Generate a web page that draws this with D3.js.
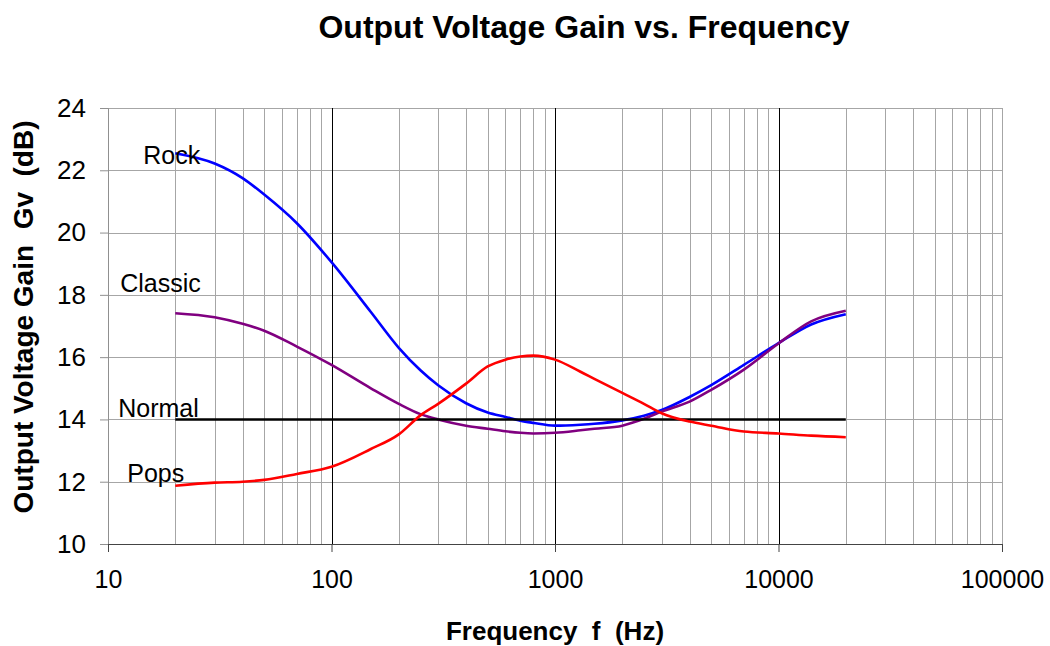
<!DOCTYPE html>
<html>
<head>
<meta charset="utf-8">
<script src="https://cdn.jsdelivr.net/npm/d3@7"></script>
<style>
  body { margin: 0; background: #fff; }
  text { font-family: "Liberation Sans", Arial, sans-serif; }
</style>
</head>
<body>
<svg id="chart" width="1050" height="646"></svg>
<script>
// frequencies (Hz) shared by all series
var freqs = [20, 30, 40, 50, 70, 100, 150, 200, 250, 300, 400, 500, 600, 700, 800,
             1000, 1300, 1500, 2000, 2500, 3000, 4000, 5000, 7000, 10000, 14000, 20000];

var rock    = [22.55, 22.22, 21.75, 21.22, 20.3, 19.05, 17.45, 16.3, 15.58, 15.1, 14.52, 14.22, 14.08, 13.96, 13.89,
               13.8, 13.83, 13.86, 13.97, 14.12, 14.3, 14.72, 15.1, 15.75, 16.45, 17.05, 17.38];
var classic = [17.41, 17.28, 17.07, 16.85, 16.34, 15.75, 15.0, 14.5, 14.17, 14.0, 13.8, 13.7, 13.62, 13.57, 13.55,
               13.57, 13.65, 13.7, 13.8, 14.02, 14.25, 14.57, 14.95, 15.6, 16.44, 17.15, 17.49];
var normal  = [14, 14, 14, 14, 14, 14, 14, 14, 14, 14, 14, 14, 14, 14, 14,
               14, 14, 14, 14, 14, 14, 14, 14, 14, 14, 14, 14];
var pops    = [11.87, 11.97, 12.0, 12.06, 12.25, 12.48, 13.05, 13.52, 14.13, 14.5, 15.15, 15.7, 15.92, 16.02, 16.05,
               15.92, 15.53, 15.3, 14.85, 14.5, 14.2, 13.93, 13.8, 13.61, 13.55, 13.48, 13.43];

var seriesNames = ["Rock", "Classic", "Normal", "Pops"];
var seriesValues = [rock, classic, normal, pops];
var seriesColors = ["#0000ff", "#800080", "#000000", "#ff0000"];

var xTicks = [10, 100, 1000, 10000, 100000];
var yTicks = [10, 12, 14, 16, 18, 20, 22, 24];

var margin = {top: 108, right: 48, bottom: 102, left: 108};
var width = 1050 - margin.left - margin.right;
var height = 646 - margin.top - margin.bottom;

var svg = d3.select("#chart");
var g = svg.append("g").attr("transform", "translate(" + margin.left + "," + margin.top + ")");

var x = d3.scaleLog().domain([10, 100000]).range([0, width]);
var y = d3.scaleLinear().domain([10, 24]).range([height, 0]);

// minor vertical grid lines (2..9 within each decade)
var minor = [];
for (var dec = 10; dec < 100000; dec *= 10) {
  for (var k = 2; k <= 9; k++) minor.push(dec * k);
}
g.selectAll(".vminor").data(minor).enter().append("line")
  .attr("x1", function(d) { return Math.round(x(d)) + 0.5; })
  .attr("x2", function(d) { return Math.round(x(d)) + 0.5; })
  .attr("y1", 0).attr("y2", height)
  .attr("stroke", "#a6a6a6").attr("stroke-width", 1);

// horizontal grid
g.selectAll(".hgrid").data(yTicks.slice(1)).enter().append("line")
  .attr("x1", 0).attr("x2", width)
  .attr("y1", function(d) { return Math.round(y(d)) + 0.5; })
  .attr("y2", function(d) { return Math.round(y(d)) + 0.5; })
  .attr("stroke", "#a6a6a6").attr("stroke-width", 1);

// major vertical lines
g.selectAll(".vmajor").data(xTicks.slice(1, 4)).enter().append("line")
  .attr("x1", function(d) { return Math.round(x(d)) + 0.5; })
  .attr("x2", function(d) { return Math.round(x(d)) + 0.5; })
  .attr("y1", 0).attr("y2", height)
  .attr("stroke", "#000").attr("stroke-width", 1);

g.append("line")
  .attr("x1", Math.round(x(100000)) + 0.5).attr("x2", Math.round(x(100000)) + 0.5)
  .attr("y1", 0).attr("y2", height)
  .attr("stroke", "#a6a6a6");

// y axis
var yAxis = g.append("g")
  .call(d3.axisLeft(y).tickValues(yTicks).tickSize(8).tickPadding(14).tickFormat(d3.format("d")));
yAxis.select(".domain").attr("stroke", "#909090");
yAxis.selectAll(".tick line").attr("stroke", "#909090");
yAxis.selectAll("text").attr("font-size", 26).attr("fill", "#000")
  .attr("font-family", "Liberation Sans, Arial, sans-serif");

// x axis
var xAxis = g.append("g").attr("transform", "translate(0," + height + ")")
  .call(d3.axisBottom(x).tickValues(xTicks).tickSize(8).tickPadding(18).tickFormat(d3.format("d")));
xAxis.select(".domain").attr("stroke", "#444");
xAxis.selectAll(".tick line").attr("stroke", "#444");
xAxis.selectAll("text").attr("font-size", 25).attr("fill", "#000")
  .attr("font-family", "Liberation Sans, Arial, sans-serif");

// series lines
var line = d3.line()
  .x(function(d) { return x(d[0]); })
  .y(function(d) { return y(d[1]); })
  .curve(d3.curveMonotoneX);

seriesNames.forEach(function(name, i) {
  var pts = freqs.map(function(f, j) { return [f, seriesValues[i][j]]; });
  g.append("path")
    .datum(pts)
    .attr("fill", "none")
    .attr("stroke", seriesColors[i])
    .attr("stroke-width", 2.6)
    .attr("d", line);
});

// series labels near the start of each curve
var labelShift = {Rock: [-32, 11], Classic: [-55, -21], Normal: [-57, -2], Pops: [-48, -4]};
seriesNames.forEach(function(name, i) {
  g.append("text")
    .attr("x", x(freqs[0]) + labelShift[name][0])
    .attr("y", y(seriesValues[i][0]) + labelShift[name][1])
    .attr("font-size", 25)
    .text(name);
});

// titles
svg.append("text")
  .attr("x", 584).attr("y", 38)
  .attr("text-anchor", "middle")
  .attr("font-size", 32).attr("font-weight", "bold")
  .text("Output Voltage Gain vs. Frequency");

svg.append("text")
  .attr("x", 555).attr("y", 640)
  .attr("text-anchor", "middle")
  .attr("font-size", 26).attr("font-weight", "bold")
  .style("white-space", "pre")
  .text("Frequency  f  (Hz)");

svg.append("text")
  .attr("transform", "translate(33,317) rotate(-90)")
  .attr("text-anchor", "middle")
  .attr("font-size", 28).attr("font-weight", "bold")
  .style("white-space", "pre")
  .text("Output Voltage Gain  Gv  (dB)");
</script>
</body>
</html>
